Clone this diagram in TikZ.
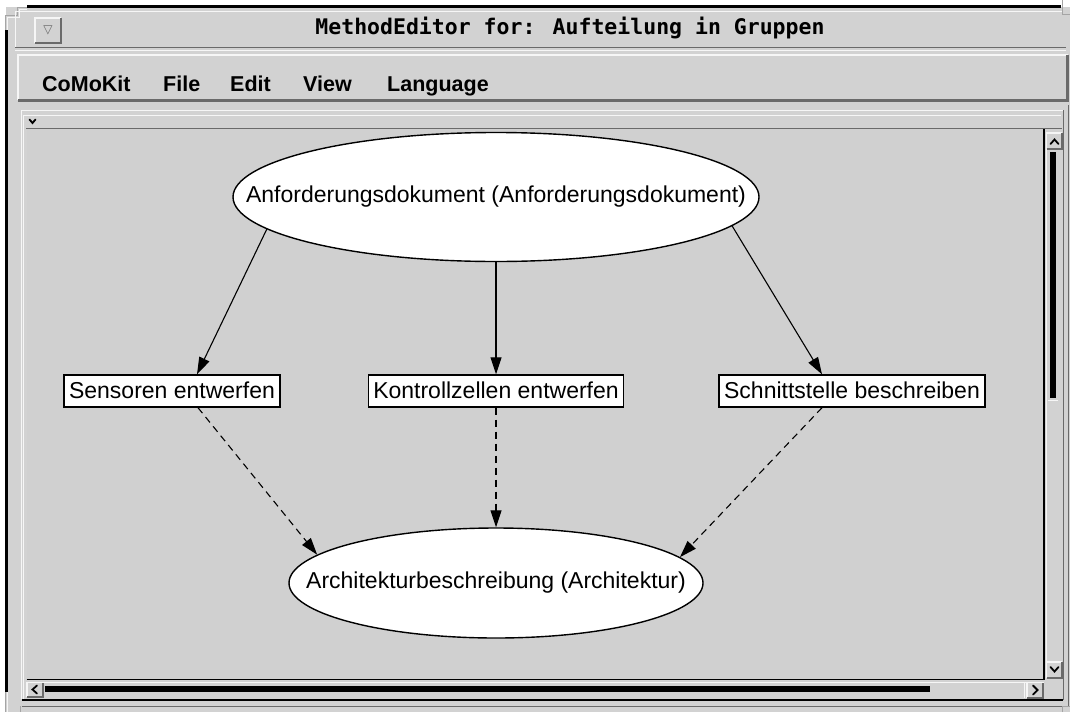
\documentclass[tikz,border=0pt]{standalone}
\usepackage{fontspec}
\setmainfont{Liberation Sans}
\newfontfamily\titlefont{DejaVu Sans Mono}
\newfontfamily\symfont{DejaVu Sans}
\usetikzlibrary{shapes.geometric,arrows.meta,calc}
\definecolor{wingray}{HTML}{D2D2D2}
\definecolor{canvasgray}{HTML}{D0D0D0}
\definecolor{bevlight}{HTML}{F6F6F6}
\definecolor{bevdark}{HTML}{6A6A6A}
\tikzset{
  bevel/.style={fill=wingray},
  chevron/.style={line width=1.8pt, line cap=round, line join=miter},
  boxnode/.style={draw=black, line width=1.4pt, fill=white, rectangle,
    inner xsep=5pt, inner ysep=0pt, minimum height=32pt,
    text height=19pt, text depth=4pt, font=\fontsize{23}{27}\selectfont},
  ellnode/.style={draw=black, line width=1.4pt, fill=white, ellipse,
    inner sep=0pt, font=\fontsize{23}{27}\selectfont},
  flow/.style={line width=1.1pt, -{Triangle[length=17pt,width=11pt]}},
  dashflow/.style={flow, dash pattern=on 7pt off 5pt},
  menuitem/.style={anchor=base west, inner sep=0pt,
    font=\fontsize{21.5}{24}\selectfont\bfseries},
}
\newcommand{\raisedbox}[4]{% x1,y1,x2,y2
  \fill[wingray] (#1,#2) rectangle (#3,#4);
  \draw[bevlight, line width=1.2pt] (#1,#4) -- (#1,#2) -- (#3,#2);
  \draw[bevdark, line width=1.2pt] (#1,#4) -- (#3,#4) -- (#3,#2);
}
\begin{document}
\begin{tikzpicture}[x=1pt,y=-1pt]
\useasboundingbox (0,0) rectangle (1070,712);
\fill[white] (0,0) rectangle (1070,712);

% window body
\fill[wingray] (6,7) rectangle (1070,712);
% resize corners
\fill[white] (0,0) rectangle (5,15) (0,0) rectangle (17,6);
\draw[bevdark!60, line width=1pt] (5,30) -- (5,15) -- (17,15) -- (17,7) -- (27,7);
\draw[bevlight, line width=1pt] (7,30) -- (7,17) -- (19,17) -- (19,9) -- (27,9);
\draw[bevdark!60, line width=1pt] (5,692) -- (5,712);
\draw[bevlight, line width=1pt] (7,692) -- (7,712);
\draw[bevdark!60, line width=1pt] (20,706) -- (20,712);
\draw[bevdark!60, line width=1pt] (1062,0) -- (1062,14) -- (1070,14);
\draw[bevdark!60, line width=1pt] (1062,712) -- (1062,706) -- (1070,706);

% black outer borders
\draw[black, line width=2.6pt] (27,6.5) -- (1061,6.5);
\draw[black, line width=2.6pt] (6.5,30) -- (6.5,692);

% title bar
\draw[bevlight, line width=1pt] (15,11.5) -- (1062,11.5);
\draw[bevlight, line width=1pt] (15,11.5) -- (15,47);
\draw[bevdark, line width=1.4pt] (15,47.5) -- (1066,47.5);
\draw[bevlight, line width=1pt] (15,50) -- (1066,50);
\raisedbox{35}{18}{61}{43}
\node (menuicon) at (48,30.5) {\symfont\fontsize{12}{12}\selectfont\color{bevdark}▽};
\node (title) at (570,28) {\titlefont\fontsize{21.5}{24}\selectfont\bfseries MethodEditor for: Aufteilung in Gruppen};

% menu bar
\fill[wingray] (18,55) rectangle (1068,101);
\draw[bevlight, line width=2pt] (18,100) -- (18,55) -- (1068,55);
\draw[bevdark, line width=2.4pt] (18,100.5) -- (1067.5,100.5) -- (1067.5,55);
\node[menuitem] (mcomokit) at (42,91) {CoMoKit};
\node[menuitem] (mfile) at (163,91) {File};
\node[menuitem] (medit) at (230,91) {Edit};
\node[menuitem] (mview) at (303,91) {View};
\node[menuitem] (mlang) at (387,91) {Language};

% scrolled canvas frame
\draw[bevlight, line width=1pt] (21,699) -- (21,110) -- (1063,110);
\draw[bevlight, line width=1pt] (23.5,699) -- (23.5,115) -- (1061,115);
\draw[bevdark, line width=1.4pt] (26,128.5) -- (1062,128.5);
\draw[chevron] (29.5,119.5) -- (32.5,123) -- (35.5,119.5);
\draw[bevdark, line width=1pt] (1063,110) -- (1063,700);
\draw[bevdark, line width=1pt] (1068,105) -- (1068,706);
\draw[black, line width=2pt] (22,700) -- (1063,700);
\draw[bevdark, line width=1pt] (22,706.5) -- (1062,706.5);

% drawing canvas
\fill[canvasgray] (27,129) rectangle (1044,679);
\draw[black, line width=1.2pt] (26.5,679.5) -- (1044,679.5) -- (1044,129);

% vertical scrollbar
\draw[bevlight, line width=1pt] (1046,133) -- (1046,661);
\raisedbox{1046.5}{133}{1062}{149}
\draw[chevron] (1050.5,144) -- (1054.5,139.5) -- (1058.5,144);
\fill[black] (1050,152) rectangle (1056,398);
\draw[bevlight, line width=1pt] (1048,400) -- (1058,400);
\raisedbox{1046.5}{662}{1062}{678}
\draw[chevron] (1050.5,667) -- (1054.5,671.5) -- (1058.5,667);

% horizontal scrollbar
\draw[bevlight, line width=1pt] (27,682) -- (1044,682);
\raisedbox{27}{682.5}{43}{697}
\draw[chevron] (37,685.5) -- (32.5,689.5) -- (37,693.5);
\fill[black] (45,686) rectangle (930,692);
\draw[bevlight, line width=1pt] (1024,683) -- (1024,698);
\raisedbox{1027}{682.5}{1043}{698}
\draw[chevron] (1033,685.5) -- (1037.5,690) -- (1033,694.5);

% process graph
\node[ellnode, minimum width=526pt, minimum height=129pt] (anf) at (496,197)
  {\makebox[0pt]{Anforderungsdokument (Anforderungsdokument)}};
\node[boxnode] (sens) at (172,391) {Sensoren entwerfen};
\node[boxnode] (kont) at (496,391) {Kontrollzellen entwerfen};
\node[boxnode] (schn) at (852,391) {Schnittstelle beschreiben};
\node[ellnode, minimum width=414pt, minimum height=110pt] (arch) at (496,583)
  {\makebox[0pt]{Architekturbeschreibung (Architektur)}};

\draw[flow] (anf.188.7) -- ($(sens.north)+(25,0)$);
\draw[flow] (anf.south) -- (kont.north);
\draw[flow] (anf.-7.6) -- ($(schn.north)+(-30,0)$);

\draw[dashflow] ($(sens.south)+(26,0)$) -- (arch.171.1);
\draw[dashflow] (kont.south) -- (arch.north);
\draw[dashflow] ($(schn.south)+(-30,0)$) -- (arch.8.6);
\end{tikzpicture}
\end{document}
